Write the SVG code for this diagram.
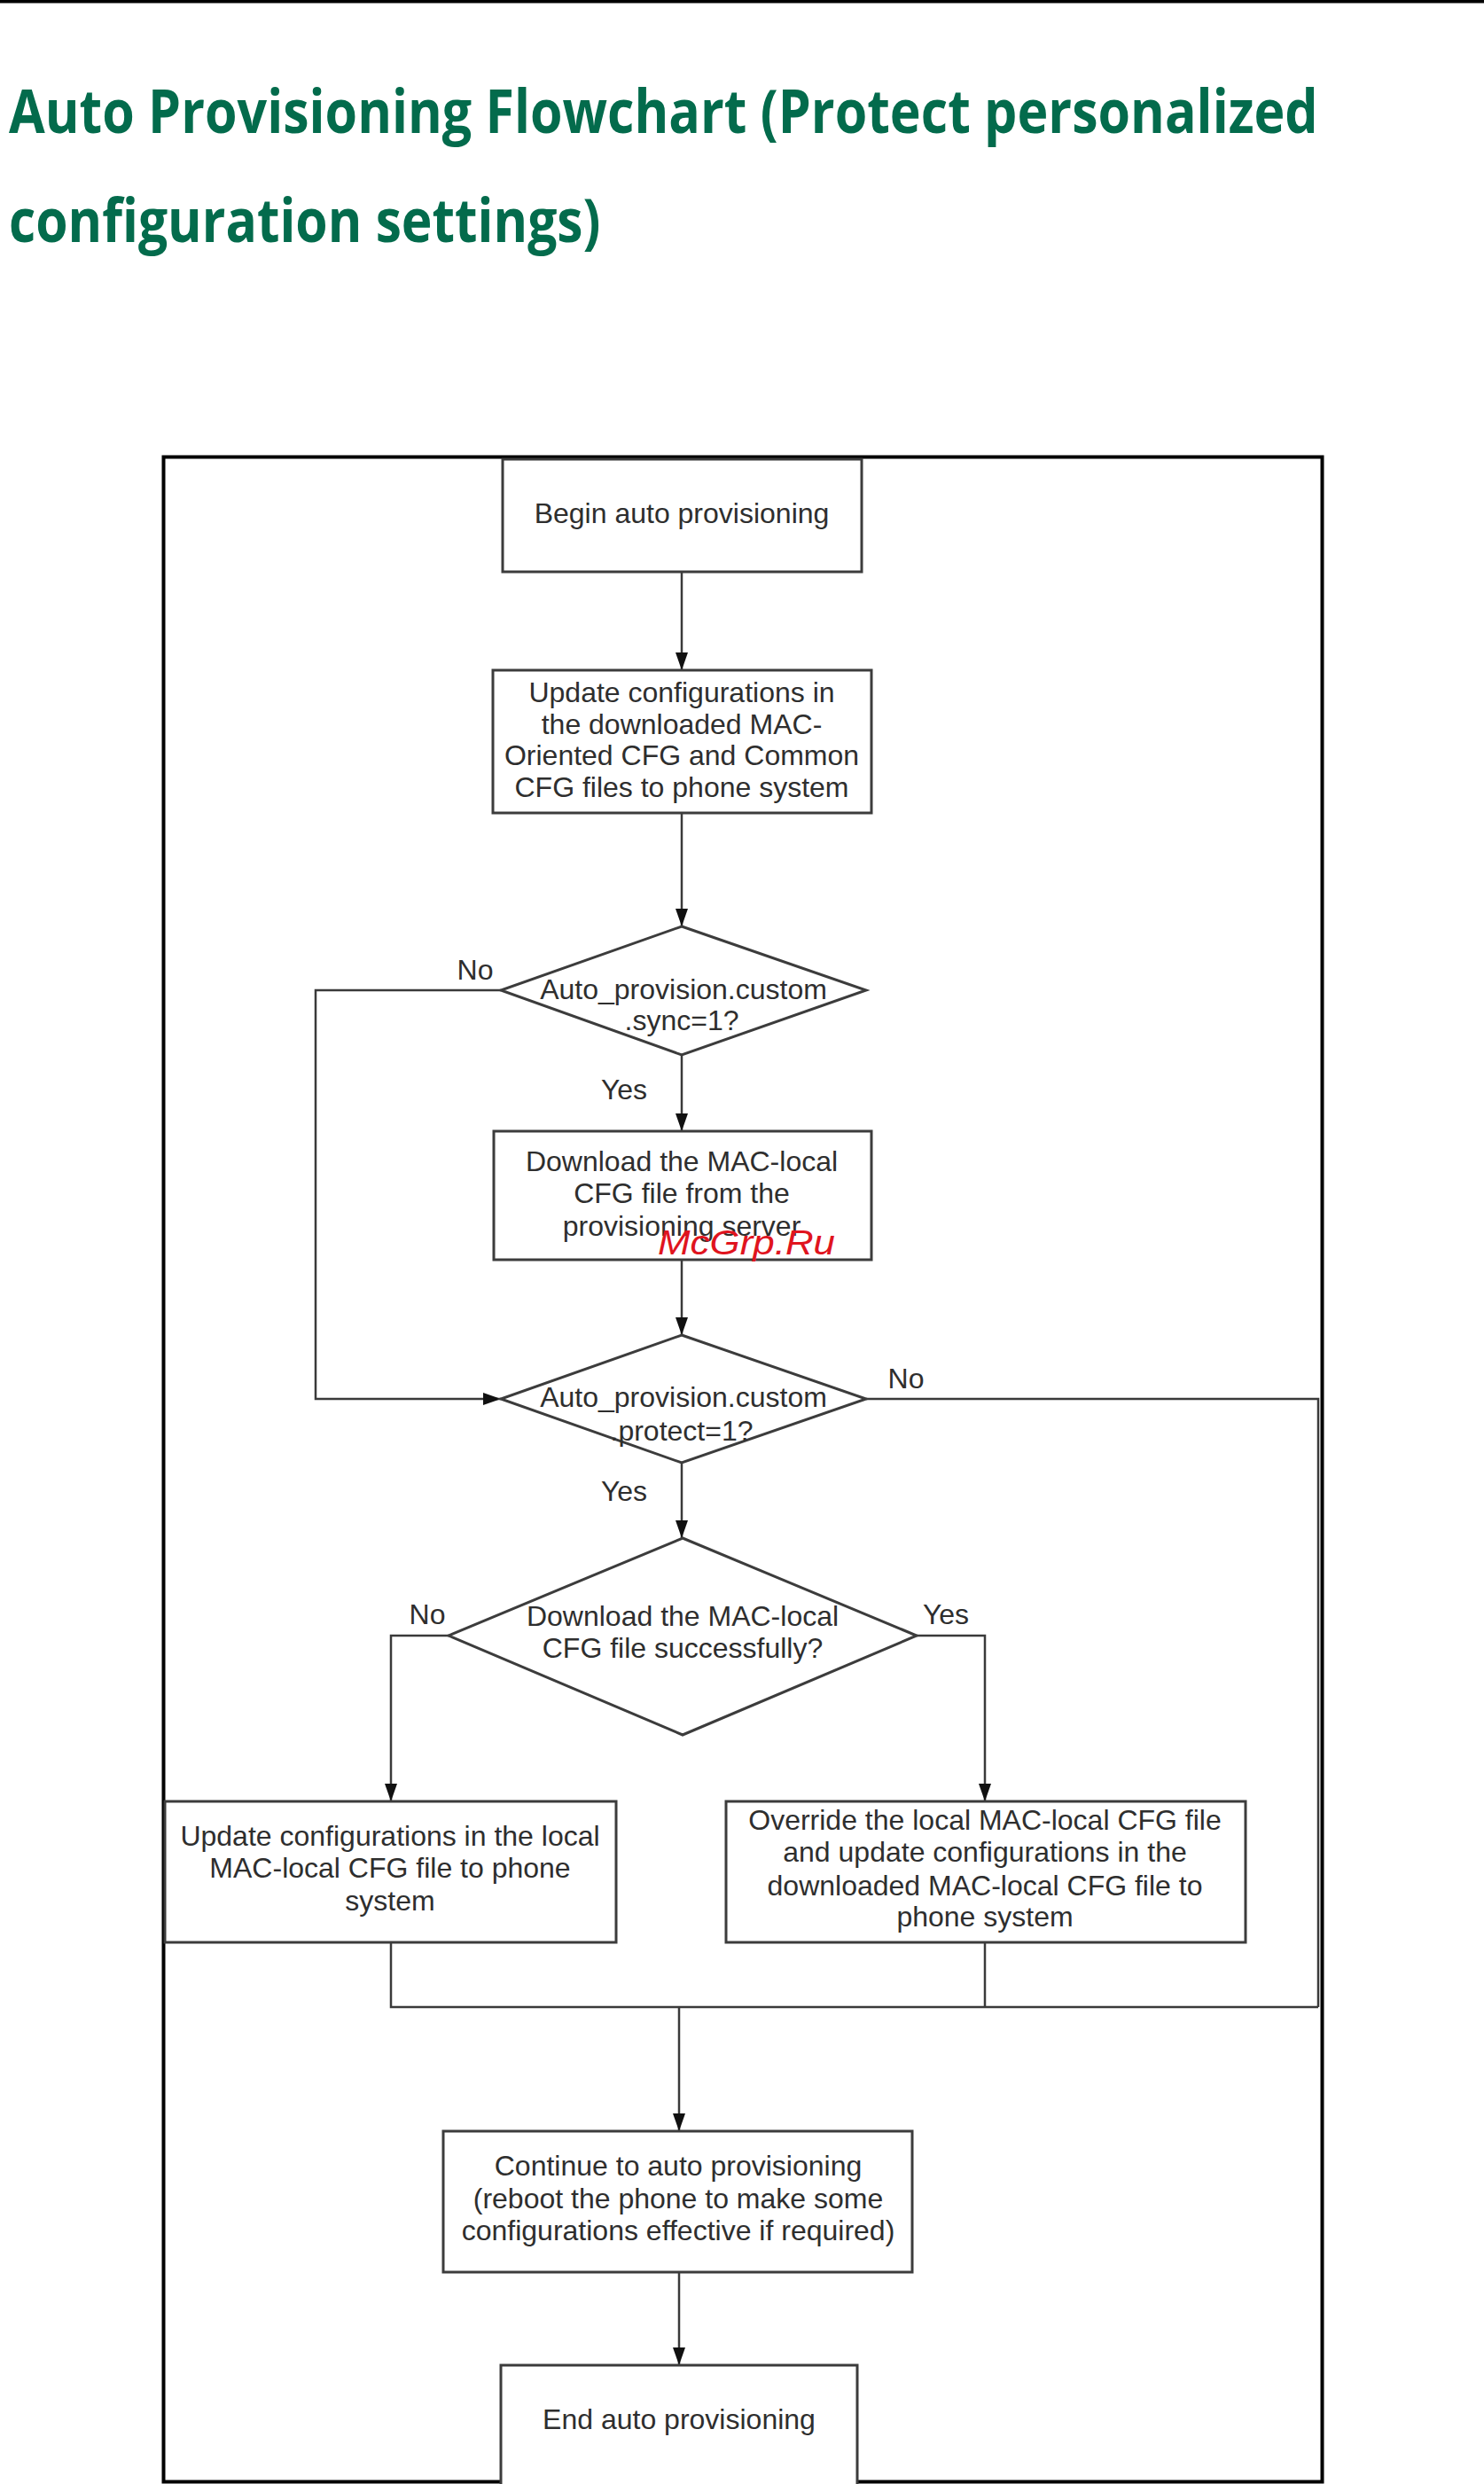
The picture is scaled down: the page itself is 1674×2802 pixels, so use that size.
<svg xmlns="http://www.w3.org/2000/svg" width="1674" height="2802" viewBox="0 0 1674 2802">
<style>
.title{font-family:"Open Sans","Liberation Sans",sans-serif;font-weight:bold;font-size:68px;fill:#036b4c}
.box{fill:#ffffff;stroke:#3c3c3c;stroke-width:3}
.t{font-family:"Liberation Sans","DejaVu Sans",sans-serif;font-size:32px;fill:#2e2e2e;text-anchor:middle}
.conn{fill:none;stroke:#3a3a3a;stroke-width:2.5}
.wm{font-family:"Liberation Sans",sans-serif;font-style:italic;font-size:38px;fill:#e0141e}
</style>
<defs>
<marker id="arr" viewBox="0 0 20 14" markerWidth="20" markerHeight="14" refX="20" refY="7" orient="auto" markerUnits="userSpaceOnUse">
<path d="M0,0 L20,7 L0,14 z" fill="#111"/>
</marker>
</defs>
<rect x="0" y="0" width="1674" height="3.5" fill="#000"/>
<g transform="translate(10,150) scale(0.75,1)">
<text class="title" x="0" y="0" textLength="1969" lengthAdjust="spacingAndGlyphs">Auto Provisioning Flowchart (Protect personalized</text>
</g>
<g transform="translate(10,273) scale(0.75,1)">
<text class="title" x="0" y="0" textLength="890" lengthAdjust="spacingAndGlyphs">configuration settings)</text>
</g>
<rect x="184.5" y="515.5" width="1307" height="2284" fill="none" stroke="#000" stroke-width="4"/>

<g id="connectors">
<line class="conn" x1="769" y1="645" x2="769" y2="756" marker-end="url(#arr)"/>
<line class="conn" x1="769" y1="917" x2="769" y2="1045" marker-end="url(#arr)"/>
<line class="conn" x1="769" y1="1190" x2="769" y2="1276" marker-end="url(#arr)"/>
<polyline class="conn" points="565,1117 356,1117 356,1578 565,1578" marker-end="url(#arr)"/>
<line class="conn" x1="769" y1="1421" x2="769" y2="1506" marker-end="url(#arr)"/>
<polyline class="conn" points="977,1578 1487,1578 1487,2264"/>
<line class="conn" x1="769" y1="1650" x2="769" y2="1735" marker-end="url(#arr)"/>
<polyline class="conn" points="506,1845 441,1845 441,2032" marker-end="url(#arr)"/>
<polyline class="conn" points="1034,1845 1111,1845 1111,2032" marker-end="url(#arr)"/>
<polyline class="conn" points="441,2191 441,2264 1487,2264"/>
<line class="conn" x1="1111" y1="2191" x2="1111" y2="2264"/>
<line class="conn" x1="766" y1="2264" x2="766" y2="2404" marker-end="url(#arr)"/>
<line class="conn" x1="766" y1="2563" x2="766" y2="2668" marker-end="url(#arr)"/>
<text class="t" x="536" y="1105">No</text>
<text class="t" x="704" y="1240">Yes</text>
<text class="t" x="1022" y="1566">No</text>
<text class="t" x="704" y="1693">Yes</text>
<text class="t" x="482" y="1832">No</text>
<text class="t" x="1067" y="1832">Yes</text>
</g>

<g id="n1">
<rect class="box" x="567" y="518" width="405" height="127"/>
<text class="t" x="769" y="590">Begin auto provisioning</text>
</g>
<g id="n2">
<rect class="box" x="556" y="756" width="427" height="161"/>
<text class="t" x="769" y="792">Update configurations in</text>
<text class="t" x="769" y="828">the downloaded MAC-</text>
<text class="t" x="769" y="863">Oriented CFG and Common</text>
<text class="t" x="769" y="899">CFG files to phone system</text>
</g>
<g id="d1">
<polygon class="box" points="769,1045 977,1117 769,1190 565,1117"/>
<text class="t" x="771" y="1127">Auto_provision.custom</text>
<text class="t" x="769" y="1162">.sync=1?</text>
</g>
<g id="n3">
<rect class="box" x="557" y="1276" width="426" height="145"/>
<text class="t" x="769" y="1321">Download the MAC-local</text>
<text class="t" x="769" y="1357">CFG file from the</text>
<text class="t" x="769" y="1394">provisioning server</text>
</g>
<g id="d2">
<polygon class="box" points="769,1506 977,1578 769,1650 565,1578"/>
<text class="t" x="771" y="1587">Auto_provision.custom</text>
<text class="t" x="769" y="1625">.protect=1?</text>
</g>
<g id="d3">
<polygon class="box" points="770,1735 1034,1845 770,1957 506,1845"/>
<text class="t" x="770" y="1834">Download the MAC-local</text>
<text class="t" x="770" y="1870">CFG file successfully?</text>
</g>
<g id="n4">
<rect class="box" x="186" y="2032" width="509" height="159"/>
<text class="t" x="440" y="2082">Update configurations in the local</text>
<text class="t" x="440" y="2118">MAC-local CFG file to phone</text>
<text class="t" x="440" y="2155">system</text>
</g>
<g id="n5">
<rect class="box" x="819" y="2032" width="586" height="159"/>
<text class="t" x="1111" y="2064">Override the local MAC-local CFG file</text>
<text class="t" x="1111" y="2100">and update configurations in the</text>
<text class="t" x="1111" y="2138">downloaded MAC-local CFG file to</text>
<text class="t" x="1111" y="2173">phone system</text>
</g>
<g id="n6">
<rect class="box" x="500" y="2404" width="529" height="159"/>
<text class="t" x="765" y="2454">Continue to auto provisioning</text>
<text class="t" x="765" y="2491">(reboot the phone to make some</text>
<text class="t" x="765" y="2527">configurations effective if required)</text>
</g>
<g id="n7">
<rect class="box" x="565" y="2668" width="402" height="140"/>
<text class="t" x="766" y="2740">End auto provisioning</text>
</g>
<text class="wm" x="742" y="1415" textLength="200" lengthAdjust="spacingAndGlyphs">McGrp.Ru</text>
</svg>
